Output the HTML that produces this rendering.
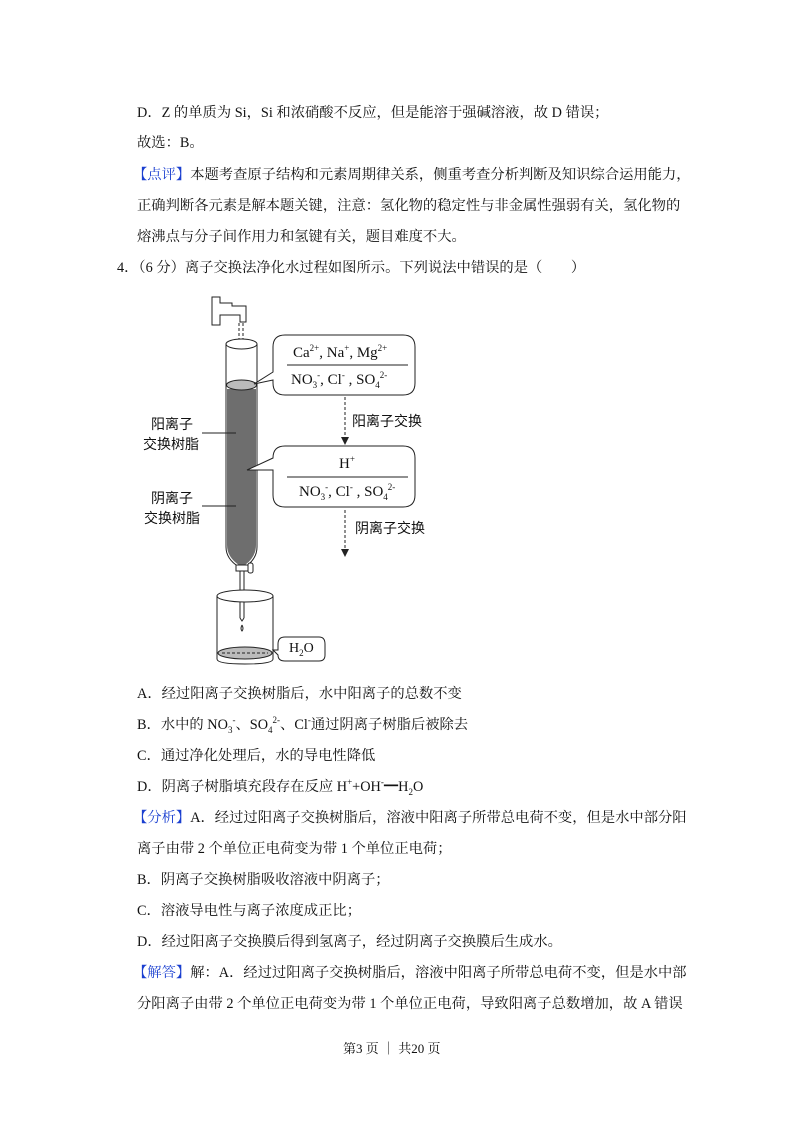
<!DOCTYPE html>
<html><head><meta charset="utf-8"><style>
body{margin:0;background:#fff;}
.pg{position:relative;width:793px;height:1122px;overflow:hidden;font-family:"Liberation Serif","Noto Serif CJK SC",serif;font-size:14.3px;color:#111;}
.l{position:absolute;white-space:nowrap;line-height:18px;}
.b{color:#1a3fd0;}
sup,sub{font-size:9px;line-height:0;}
.s{font-family:"Liberation Sans","Noto Sans CJK SC",sans-serif;font-size:14px;}
.f{font-size:15px;}
</style></head><body><div class="pg">
<div class="l" style="left:137px;top:104px">D．Z 的单质为 Si，Si 和浓硝酸不反应，但是能溶于强碱溶液，故 D 错误；</div>
<div class="l" style="left:137px;top:134px">故选：B。</div>
<div class="l" style="left:133px;top:166px"><span class="b">【点评】</span>本题考查原子结构和元素周期律关系，侧重考查分析判断及知识综合运用能力，</div>
<div class="l" style="left:137px;top:197px">正确判断各元素是解本题关键，注意：氢化物的稳定性与非金属性强弱有关，氢化物的</div>
<div class="l" style="left:137px;top:228px">熔沸点与分子间作用力和氢键有关，题目难度不大。</div>
<div class="l" style="left:117px;top:259px">4．（6 分）离子交换法净化水过程如图所示。下列说法中错误的是（　　）</div>

<svg style="position:absolute;left:0;top:0" width="793" height="700">
<g fill="none" stroke="#222" stroke-width="1">
<path d="M212 297h8v6h12v3h14v16h-6v-7h-20v10h-8z" fill="#fff"/>
<line x1="239" y1="323" x2="239" y2="345" stroke-dasharray="3,2"/>
<line x1="243" y1="323" x2="243" y2="345" stroke-dasharray="3,2"/>
<path d="M226 344v203q0 12 13 20h6q12-8 12-20v-203" fill="#fff"/>
<ellipse cx="241.5" cy="344" rx="15.5" ry="5" fill="#fff"/>
<path d="M227 389v156q0 12 12 20h6q11-8 11-20v-156z" fill="#6e6e6e" stroke="none"/>
<ellipse cx="241.5" cy="385" rx="15" ry="5" fill="#bbb"/>
<rect x="236" y="565" width="13" height="6" fill="#fff"/>
<rect x="248" y="563" width="5" height="10" rx="2" fill="#fff"/>
<line x1="240" y1="571" x2="240" y2="618"/><line x1="244" y1="571" x2="244" y2="618"/>
<path d="M240 618l2 3l2-3"/>
<path d="M242 625q-2 4 0 6q2-2 0-6"/>
<path d="M217 596v63q0 5 28 5q28 0 28-5v-63"/>
<ellipse cx="245" cy="596" rx="28" ry="6" fill="#fff"/>
<ellipse cx="245" cy="653" rx="27" ry="6" fill="#bbb"/>
<line x1="222" y1="653" x2="268" y2="653" stroke-dasharray="3,2"/>
<path d="M285 335h118q12 0 12 12v36q0 12-12 12h-118q-12 0-12-12v-3l-19 4l19-12v-25q0-12 12-12z" fill="#fff"/>
<line x1="287" y1="365" x2="408" y2="365"/>
<path d="M285 446h118q12 0 12 12v37q0 12-12 12h-118q-12 0-12-12v-25l-26 0l26-12v0q0-12 12-12z" fill="#fff"/>
<line x1="287" y1="477" x2="408" y2="477"/>
<line x1="345" y1="397" x2="345" y2="437" stroke-dasharray="3,2"/>
<line x1="345" y1="510" x2="345" y2="549" stroke-dasharray="3,2"/>
<line x1="202" y1="433" x2="236" y2="433"/>
<line x1="202" y1="506" x2="236" y2="506"/>
<path d="M273 650l5 0v-6q0-7 7-7h34q6 0 6 7v11q0 6-6 6h-34q-7 0-7-6z" fill="#fff"/>
</g>
<path d="M341 437h8l-4 8z" fill="#222"/><path d="M341 549h8l-4 8z" fill="#222"/>
</svg>
<div class="l f" style="left:293px;top:344px">Ca<sup>2+</sup>, Na<sup>+</sup>, Mg<sup>2+</sup></div>
<div class="l f" style="left:291px;top:371px">NO<sub>3</sub><sup>-</sup>, Cl<sup>-</sup> , SO<sub>4</sub><sup>2-</sup></div>
<div class="l f" style="left:339px;top:455px">H<sup>+</sup></div>
<div class="l f" style="left:299px;top:483px">NO<sub>3</sub><sup>-</sup>, Cl<sup>-</sup> , SO<sub>4</sub><sup>2-</sup></div>
<div class="l" style="left:289px;top:640px;font-size:14px">H<sub>2</sub>O</div>
<div class="l s" style="left:352px;top:412px">阳离子交换</div>
<div class="l s" style="left:355px;top:519px">阴离子交换</div>
<div class="l s" style="left:151px;top:415px">阳离子</div>
<div class="l s" style="left:143px;top:435px">交换树脂</div>
<div class="l s" style="left:151px;top:489px">阴离子</div>
<div class="l s" style="left:144px;top:509px">交换树脂</div>

<div class="l" style="left:137px;top:685px">A．经过阳离子交换树脂后，水中阳离子的总数不变</div>
<div class="l" style="left:137px;top:716px">B．水中的 NO<sub>3</sub><sup>-</sup>、SO<sub>4</sub><sup>2-</sup>、Cl<sup>-</sup>通过阴离子树脂后被除去</div>
<div class="l" style="left:137px;top:747px">C．通过净化处理后，水的导电性降低</div>
<div class="l" style="left:137px;top:778px">D．阴离子树脂填充段存在反应 H<sup>+</sup>+OH<sup>-</sup>━H<sub>2</sub>O</div>
<div class="l" style="left:133px;top:809px"><span class="b">【分析】</span>A．经过过阳离子交换树脂后，溶液中阳离子所带总电荷不变，但是水中部分阳</div>
<div class="l" style="left:137px;top:840px">离子由带 2 个单位正电荷变为带 1 个单位正电荷；</div>
<div class="l" style="left:137px;top:871px">B．阴离子交换树脂吸收溶液中阴离子；</div>
<div class="l" style="left:137px;top:902px">C．溶液导电性与离子浓度成正比；</div>
<div class="l" style="left:137px;top:933px">D．经过阳离子交换膜后得到氢离子，经过阴离子交换膜后生成水。</div>
<div class="l" style="left:133px;top:964px"><span class="b">【解答】</span>解：A．经过过阳离子交换树脂后，溶液中阳离子所带总电荷不变，但是水中部</div>
<div class="l" style="left:137px;top:995px">分阳离子由带 2 个单位正电荷变为带 1 个单位正电荷，导致阳离子总数增加，故 A 错误</div>
<div class="l" style="left:343px;top:1040px;font-size:13px">第3 页 ｜ 共20 页</div>
</div></body></html>
